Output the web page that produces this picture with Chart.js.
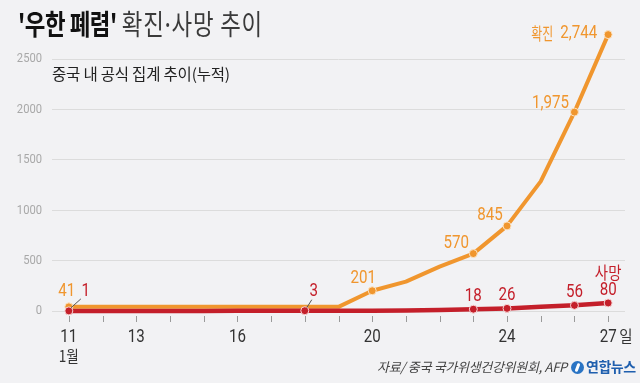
<!DOCTYPE html>
<html><head><meta charset="utf-8">
<script src="https://cdn.jsdelivr.net/npm/chart.js@4/dist/chart.umd.min.js"></script>
<style>
html,body{margin:0;padding:0;background:#f2f2f4;}
#wrap{position:relative;width:640px;height:383px;overflow:hidden;background:#f2f2f4;font-family:"Noto Sans CJK KR",sans-serif;}
canvas{position:absolute;left:0;top:0;}
#title{position:absolute;left:18px;top:3px;font-size:28px;white-space:nowrap;transform:scaleX(0.8);transform-origin:0 0;}
#title b{color:#111;font-weight:700;letter-spacing:-0.6px;}
#title span{color:#3a3a3a;font-weight:400;letter-spacing:1px;}
#title em{font-style:normal;margin:0 -4px;}
#sub{position:absolute;left:52px;top:62px;font-size:15.5px;color:#222;white-space:nowrap;letter-spacing:-0.2px;}
#src{position:absolute;left:377px;top:357px;font-size:13px;color:#444;font-style:italic;white-space:nowrap;letter-spacing:-0.3px;}
#logo{position:absolute;left:571px;top:356px;white-space:nowrap;color:#1f5fae;font-weight:700;font-size:14px;letter-spacing:-0.5px;}
#logo i{display:inline-block;width:13px;height:13px;border-radius:50%;background:#2a74c4;vertical-align:-2px;margin-right:2px;position:relative;}
#logo i:after{content:"";position:absolute;left:5px;top:2px;width:3px;height:9px;background:#fff;border-radius:2px;transform:rotate(20deg);}
</style></head>
<body><div id="wrap">
<canvas id="c" width="640" height="383"></canvas>
<div id="title"><b>'우한 폐렴'</b> <span>확진<em>·</em>사망 추이</span></div>
<div id="sub">중국 내 공식 집계 추이(누적)</div>
<div id="src">자료/ 중국 국가위생건강위원회, AFP</div>
<div id="logo"><i></i>연합뉴스</div>
</div>
<script>
// ---- data ----
const days = [11,12,13,14,15,16,17,18,19,20,21,22,23,24,25,26,27];
const confirmed = [41,41,41,41,41,41,41,41,41,201,291,440,570,845,1287,1975,2744];
const deaths = [1,1,1,1,1,2,2,3,3,3,6,9,18,26,41,56,80];
const xTickLabels = [11,13,16,20,24,27];
const yTicks = [0,500,1000,1500,2000,2500];
const confirmedMarked = [11,20,23,24,26,27];
const deathsMarked = [11,18,23,24,26,27];

const ORANGE = '#f0962e';
const RED = '#c41f2a';
const NUMFONT = 'Roboto,sans-serif';
const KRFONT = '"Noto Sans CJK KR",sans-serif';

function pts(vals){ return days.map((d,i)=>({x:d,y:vals[i]})); }

function condText(ctx,text,x,y,align,font,sx){
  ctx.save();
  ctx.translate(x,y);
  ctx.scale(sx,1);
  ctx.font=font; ctx.textAlign=align; ctx.textBaseline='middle';
  ctx.fillText(text,0,0);
  ctx.restore();
}

const labelPlugin = {
  id:'labels',
  afterDatasetsDraw(chart){
    const ctx = chart.ctx;
    const xs = chart.scales.x, ys = chart.scales.y;
    const px = d => xs.getPixelForValue(d);
    const py = v => ys.getPixelForValue(v);
    const fmt = v => v.toLocaleString('en-US');
    ctx.save();
    // leader lines
    ctx.strokeStyle = '#555'; ctx.lineWidth = 1;
    const ld = (d,v,x1,y1,x2,y2)=>{ctx.beginPath();ctx.moveTo(px(d)+x1,py(v)+y1);ctx.lineTo(px(d)+x2,py(v)+y2);ctx.stroke();};
    ld(11,deaths[0],2,-3,12,-12);
    ld(18,deaths[7],2,-3,7,-11);
    const NF = '18px '+NUMFONT, KF = '16px '+KRFONT;
    const lab = (text,d,v,dx,dy,color,align,font,sx)=>{
      ctx.fillStyle=color;
      condText(ctx,text,px(d)+dx,py(v)+dy,align||'center',font||NF,sx||0.84);
    };
    const ci = d => confirmed[days.indexOf(d)];
    const di = d => deaths[days.indexOf(d)];
    lab(fmt(ci(11)),11,ci(11),-2,-15,ORANGE);
    lab(fmt(ci(20)),20,ci(20),-9,-12,ORANGE);
    lab(fmt(ci(23)),23,ci(23),-17,-10,ORANGE);
    lab(fmt(ci(24)),24,ci(24),-17,-10,ORANGE);
    lab(fmt(ci(26)),26,ci(26),-24,-9,ORANGE);
    lab(fmt(ci(27)),27,ci(27),-11,-1,ORANGE,'right');
    ctx.font = NF;
    const w = ctx.measureText(fmt(ci(27))).width*0.84;
    lab('확진',27,ci(27),-18-w,-1,ORANGE,'right','17px '+KRFONT,0.7);
    lab(fmt(di(11)),11,di(11),17,-19,RED);
    lab(fmt(di(18)),18,di(18),9,-19,RED);
    lab(fmt(di(23)),23,di(23),0,-13,RED);
    lab(fmt(di(24)),24,di(24),0,-13,RED);
    lab(fmt(di(26)),26,di(26),0,-13,RED);
    lab(fmt(di(27)),27,di(27),0,-12,RED);
    lab('사망',27,di(27),0,-30,RED,'center','17px '+KRFONT,0.85);
    // y tick labels
    ctx.fillStyle='#a8a8a8';
    yTicks.forEach(v=>condText(ctx,String(v),42,py(v),'right','13px '+NUMFONT,0.86));
    // x axis ticks & labels
    const base = ys.getPixelForValue(0);
    ctx.strokeStyle = '#9a9a9a';
    days.forEach(d=>{ctx.beginPath();ctx.moveTo(Math.round(px(d))+0.5,base+5);ctx.lineTo(Math.round(px(d))+0.5,base+11);ctx.stroke();});
    ctx.fillStyle='#333';
    xTickLabels.forEach(d=>condText(ctx,String(d),px(d),base+26,'center','18px '+NUMFONT,0.84));
    condText(ctx,'1월',px(11),base+45,'center','16px '+KRFONT,0.85);
    condText(ctx,'일',px(27)+11,base+25,'left','16px '+KRFONT,0.9);
    ctx.restore();
  }
};

new Chart(document.getElementById('c'),{
  type:'line',
  data:{datasets:[
    {label:'사망',data:pts(deaths),borderColor:RED,backgroundColor:RED,borderWidth:4.5,
     pointRadius:c=>deathsMarked.includes(days[c.dataIndex])?4:0,pointBorderColor:'#f6d6d6',pointBorderWidth:1,
     pointBackgroundColor:RED,tension:0,clip:false,borderJoinStyle:'round',borderCapStyle:'round'},
    {label:'확진',data:pts(confirmed),borderColor:ORANGE,backgroundColor:ORANGE,borderWidth:4,
     pointRadius:c=>confirmedMarked.includes(days[c.dataIndex])?4:0,pointBorderColor:'#fbe3c4',pointBorderWidth:1,
     pointBackgroundColor:ORANGE,tension:0,clip:false,borderJoinStyle:'round',borderCapStyle:'round'}
  ]},
  options:{
    responsive:false,animation:false,devicePixelRatio:1,
    layout:{padding:{top:34,right:15,bottom:72,left:0}},
    plugins:{legend:{display:false},tooltip:{enabled:false}},
    scales:{
      x:{type:'linear',min:10.5,max:27.5,display:false},
      y:{min:0,max:2750,
         afterBuildTicks:s=>{s.ticks=yTicks.map(v=>({value:v}));},
         afterFit:s=>{s.width=52;},
         grid:{color:'#dcdcdc',drawTicks:false,lineWidth:1},
         border:{display:false},
         ticks:{display:false}}
    }
  },
  plugins:[labelPlugin]
});
</script>
</body></html>
